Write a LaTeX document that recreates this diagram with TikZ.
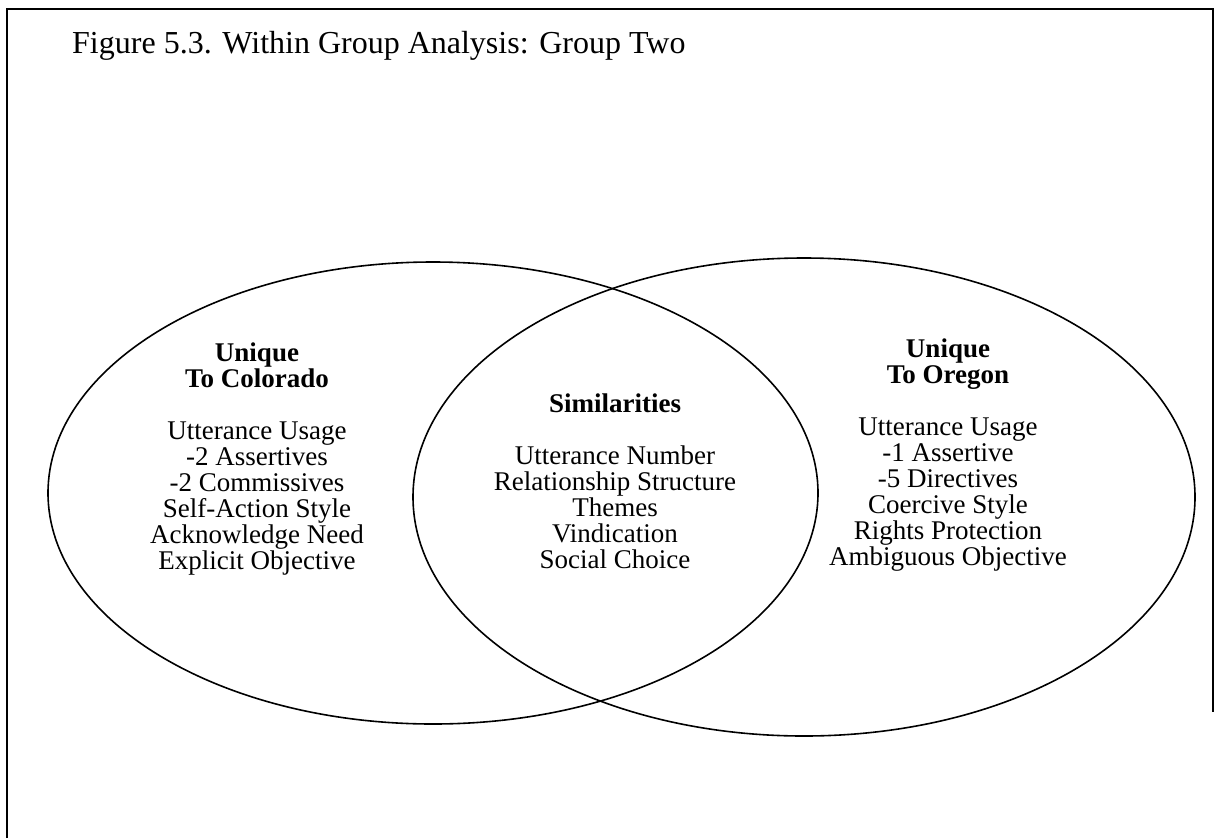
\documentclass[tikz,border=0pt]{standalone}
\usepackage{fontspec}
\setmainfont{Liberation Serif}
\begin{document}
\begin{tikzpicture}[x=1pt,y=-1pt,
  frame/.style={line width=1.8pt,black},
  venn/.style={line width=1.6pt,black},
  blk/.style={align=center,inner sep=0pt,anchor=north,font=\fontsize{27}{26}\selectfont},
  ttl/.style={inner sep=0pt,anchor=west,font=\fontsize{32}{36}\selectfont}]
\useasboundingbox (0,0) rectangle (1222,838);
\draw[frame] (7,838) -- (7,9) -- (1213,9) -- (1213,712);
\draw[venn] (433,493) ellipse [x radius=385, y radius=231];
\draw[venn] (804,497) ellipse [x radius=391, y radius=239];
\node[ttl] (title) at (72,46) {Figure 5.3. Within Group Analysis: Group Two};
\node[blk] (left) at (257,343) {\textbf{Unique}\\\textbf{To Colorado}\\[26pt]Utterance Usage\\-2 Assertives\\-2 Commissives\\Self-Action Style\\Acknowledge Need\\Explicit Objective};
\node[blk] (mid) at (615,394) {\textbf{Similarities}\\[26pt]Utterance Number\\Relationship Structure\\Themes\\Vindication\\Social Choice};
\node[blk] (right) at (948,339) {\textbf{Unique}\\\textbf{To Oregon}\\[26pt]Utterance Usage\\-1 Assertive\\-5 Directives\\Coercive Style\\Rights Protection\\Ambiguous Objective};
\end{tikzpicture}
\end{document}
